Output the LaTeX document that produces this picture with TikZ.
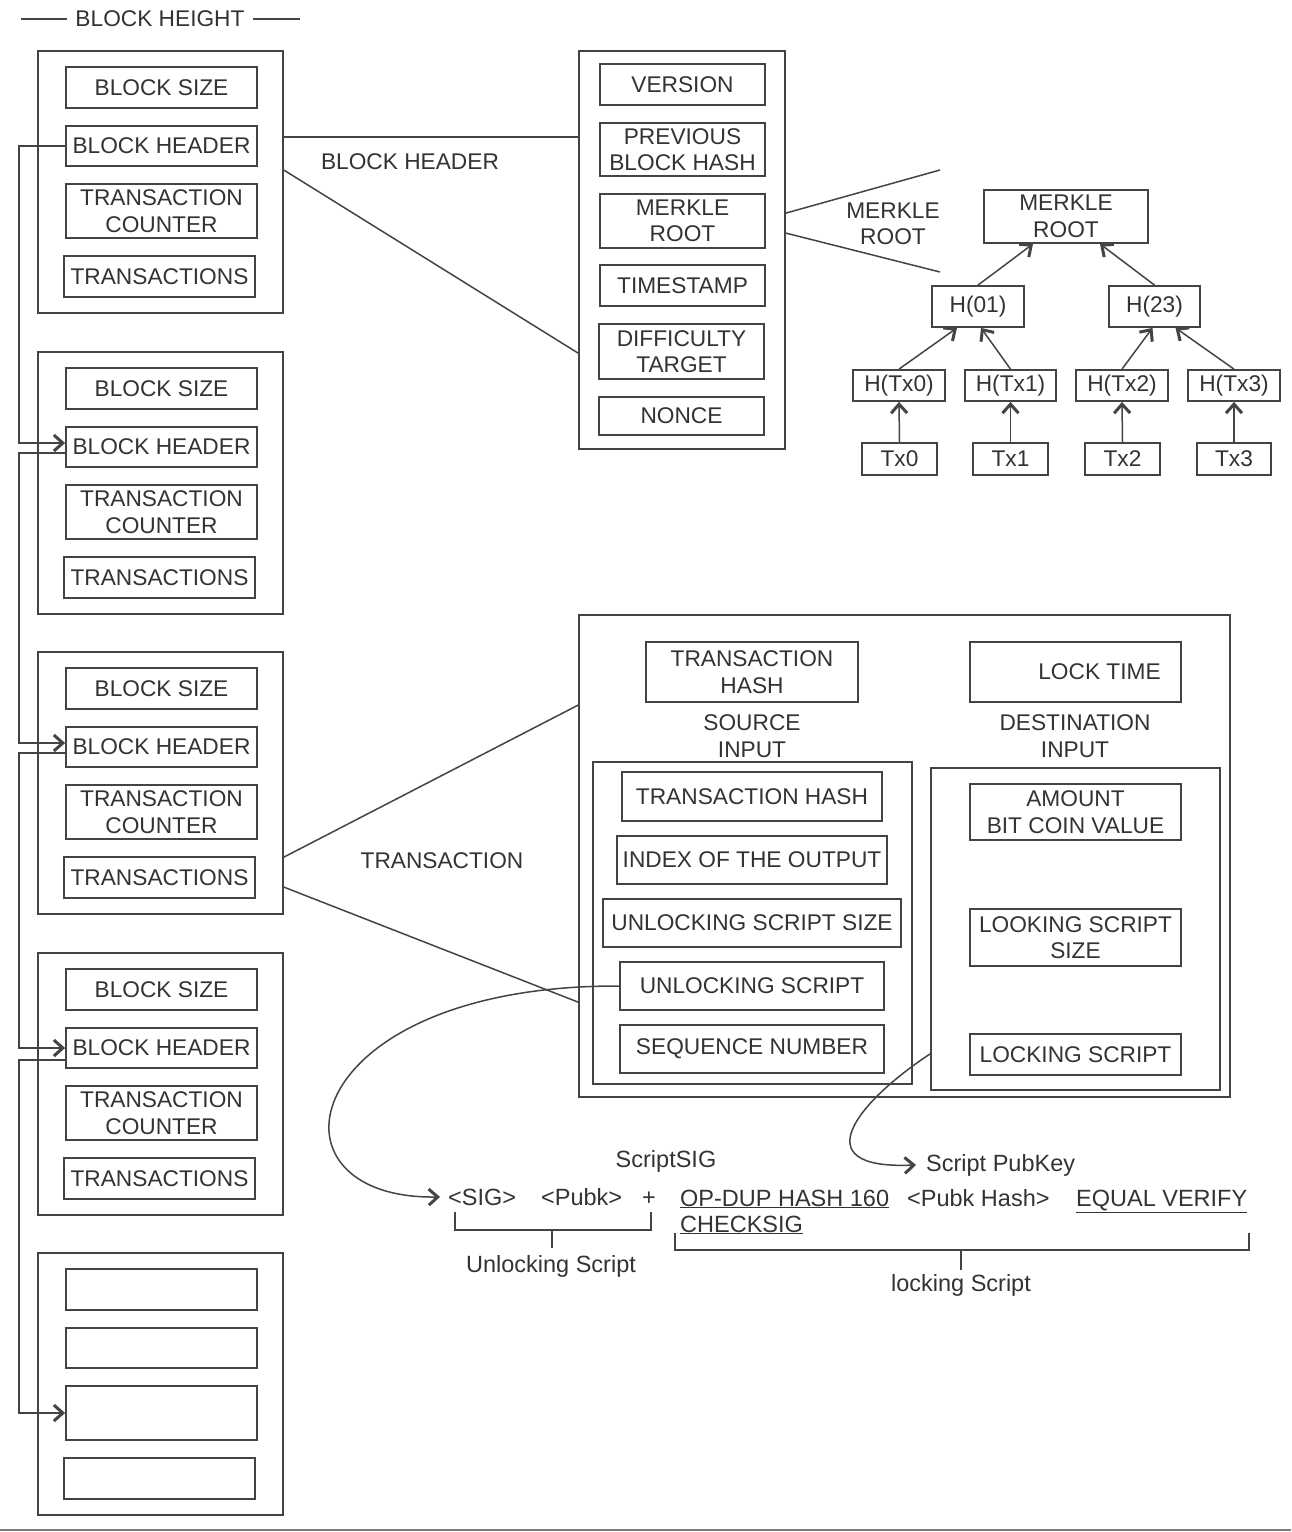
\documentclass[tikz,border=0pt]{standalone}
\usepackage{fontspec}
\setmainfont{Liberation Sans}
\usetikzlibrary{arrows.meta,calc}
\definecolor{ink}{HTML}{333333}
\definecolor{lin}{HTML}{444444}
\newcommand\mybox[6]{\node[bx,minimum width={(#4)-(#2)},minimum height={(#5)-(#3)}] (#1) at ({((#2)+(#4))/2},{-((#3)+(#5))/2}) {#6};}
\begin{document}
\begin{tikzpicture}[x=1pt,y=1pt,
  bx/.style={draw=lin,line width=1.8pt,inner sep=0pt,align=center,text=ink,font=\fontsize{22.7}{26.5}\selectfont},
  lbl/.style={inner sep=0pt,align=center,text=ink,font=\fontsize{22.7}{26.5}\selectfont},
  lbl2/.style={inner sep=0pt,align=center,text=ink,font=\fontsize{23.5}{26}\selectfont},
  ln/.style={draw=lin,line width=1.5pt},
  conn/.style={draw=lin,line width=1.5pt,-{Straight Barb[length=9pt,width=16pt,line width=3pt]}}]
\fill[white] (0,0) rectangle (1291,-1532);
\useasboundingbox (0,0) rectangle (1291,-1532);

% block height title
\node[lbl,inner xsep=8pt] (bht) at (160,-19) {BLOCK HEIGHT};
\draw[ln] (bht.west) -- ++(-46,0);
\draw[ln] (bht.east) -- ++(47,0);

% blocks
\foreach \o/\n in {0/1,301/2,601/3,902/4}{
  \mybox{b\n}{38}{51+\o}{283}{313+\o}{}
  \mybox{b\n s}{66}{67+\o}{257}{108+\o}{BLOCK SIZE}
  \mybox{b\n h}{66}{126+\o}{257}{166+\o}{BLOCK HEADER}
  \mybox{b\n c}{66}{184+\o}{257}{238+\o}{TRANSACTION\\COUNTER}
  \mybox{b\n t}{64}{256+\o}{255}{297+\o}{TRANSACTIONS}
}
\mybox{b5}{38}{1253}{283}{1515}{}
\mybox{b5s}{66}{1269}{257}{1310}{}
\mybox{b5h}{66}{1328}{257}{1368}{}
\mybox{b5c}{66}{1386}{257}{1440}{}
\mybox{b5t}{64}{1458}{255}{1499}{}

% chain connectors
\draw[conn] (b1h.west) -- ++(-46,0) |- ([yshift=4pt]b2h.west);
\draw[conn] ([yshift=-6pt]b2h.west) -- ++(-46,0) |- ([yshift=4pt]b3h.west);
\draw[conn] ([yshift=-6pt]b3h.west) -- ++(-46,0) |- ([yshift=0pt]b4h.west);
\draw[conn] ([yshift=-12pt]b4h.west) -- ++(-46,0) |- (b5c.west);

% header
\mybox{hdr}{579}{51}{785}{449}{}
\mybox{ver}{600}{64}{765}{105}{VERSION}
\mybox{pbh}{600}{123}{765}{176}{PREVIOUS\\BLOCK HASH}
\mybox{mrk}{600}{194}{765}{248}{MERKLE\\ROOT}
\mybox{tms}{600}{265}{765}{306}{TIMESTAMP}
\mybox{dft}{599}{324}{764}{379}{DIFFICULTY\\TARGET}
\mybox{non}{599}{397}{764}{435}{NONCE}

\draw[ln] ($(b1.north east)+(0,-87)$) -- ($(hdr.north west)+(0,-87)$);
\draw[ln] ($(b1.north east)+(0,-120)$) -- ($(hdr.north west)+(0,-303)$);
\node[lbl] (lbh) at (410,-162) {BLOCK HEADER};

% merkle
\coordinate (mt) at (940,-170);
\coordinate (mb) at (940,-272);
\draw[ln] ($(hdr.north east)+(0,-163)$) -- (mt);
\draw[ln] ($(hdr.north east)+(0,-183)$) -- (mb);
\node[lbl] (lmr) at (893,-224) {MERKLE\\ROOT};

\mybox{mr}{984}{190}{1148}{243}{MERKLE\\ROOT}
\mybox{h01}{932}{286}{1024}{327}{H(01)}
\mybox{h23}{1109}{286}{1200}{327}{H(23)}
\mybox{ht0}{853}{370}{945}{401}{H(Tx0)}
\mybox{ht1}{965}{370}{1056}{401}{H(Tx1)}
\mybox{ht2}{1076}{370}{1168}{401}{H(Tx2)}
\mybox{ht3}{1188}{370}{1280}{401}{H(Tx3)}
\mybox{tx0}{862}{443}{937}{475}{Tx0}
\mybox{tx1}{973}{443}{1048}{475}{Tx1}
\mybox{tx2}{1085}{443}{1160}{475}{Tx2}
\mybox{tx3}{1197}{443}{1271}{475}{Tx3}

\draw[conn] (h01.north) -- ([xshift=-33pt]mr.south);
\draw[conn] (h23.north) -- ([xshift=34pt]mr.south);
\draw[conn] (ht0.north) -- ([xshift=-21pt]h01.south);
\draw[conn] (ht1.north) -- ([xshift=3pt]h01.south);
\draw[conn] (ht2.north) -- ([xshift=-2pt]h23.south);
\draw[conn] (ht3.north) -- ([xshift=21pt]h23.south);
\foreach \i in {0,1,2,3}{\draw[conn] (tx\i.north) -- (ht\i.south);}

% transaction
\mybox{tx}{579}{615}{1230}{1097}{}
\mybox{th}{646}{642}{858}{702}{TRANSACTION\\HASH}
\mybox{lt}{970}{642}{1181}{702}{\hspace*{48pt}LOCK TIME}
\node[lbl] (lsi) at (752,-736) {SOURCE\\INPUT};
\node[lbl] (ldi) at (1075,-736) {DESTINATION\\INPUT};
\mybox{src}{593}{762}{912}{1084}{}
\mybox{sth}{622}{772}{882}{821}{TRANSACTION HASH}
\mybox{sio}{617}{836}{887}{884}{INDEX OF THE OUTPUT}
\mybox{sus}{603}{899}{901}{947}{UNLOCKING SCRIPT SIZE}
\mybox{usc}{620}{962}{884}{1010}{UNLOCKING SCRIPT}
\mybox{ssn}{620}{1025}{884}{1073}{SEQUENCE NUMBER}
\mybox{dst}{931}{768}{1220}{1090}{}
\mybox{amt}{970}{784}{1181}{840}{AMOUNT\\BIT COIN VALUE}
\mybox{lss}{970}{909}{1181}{966}{LOOKING SCRIPT\\SIZE}
\mybox{lsc}{970}{1034}{1181}{1075}{LOCKING SCRIPT}

\draw[ln] ($(b3.north east)+(0,-206)$) -- ($(tx.north west)+(0,-91)$);
\draw[ln] ($(b3.north east)+(0,-236)$) -- ($(tx.north west)+(0,-388)$);
\node[lbl] (ltx) at (442,-861) {TRANSACTION};

% scripts
\node[lbl2] (ssig) at (666,-1161) {ScriptSIG};
\node[lbl2,anchor=base west] (sig1) at (448,-1205) {<SIG>};
\node[lbl2,anchor=base west] (sig2) at (541,-1205) {<Pubk>};
\node[lbl2,anchor=base west] (sig3) at (642,-1205) {+};
\node[lbl2,anchor=base west] (op1) at (680,-1206) {\underline{OP-DUP HASH 160}};
\node[lbl2,anchor=base west] (op2) at (907,-1206) {<Pubk Hash>};
\node[lbl2,anchor=base west] (op3) at (1076,-1206) {\underline{EQUAL VERIFY}};
\node[lbl2,anchor=base west] (op4) at (680,-1232) {\underline{CHECKSIG}};
\node[lbl2,anchor=base west] (spk) at (926,-1171) {Script PubKey};
\node[lbl2] (ulk) at (551,-1266) {Unlocking Script};
\node[lbl2] (lk) at (961,-1285) {locking Script};

\draw[ln] (455,-1212) -- (455,-1230) -- (651,-1230) -- (651,-1212);
\draw[ln] (552,-1230) -- (552,-1248);
\draw[ln] (675,-1233) -- (675,-1250) -- (1249,-1250) -- (1249,-1233);
\draw[ln] (961,-1250) -- (961,-1270);

\draw[conn] (usc.west) .. controls (295,-985) and (255,-1200) .. ([xshift=-8pt]sig1.west);
\draw[conn] ($(dst.south west)+(0,37)$) .. controls (860,-1100) and (800,-1170) .. ([xshift=-10pt]spk.west);

% bottom rule
\draw[draw=lin!70,line width=1.5pt] (0,-1530) -- (1291,-1530);
\end{tikzpicture}
\end{document}
